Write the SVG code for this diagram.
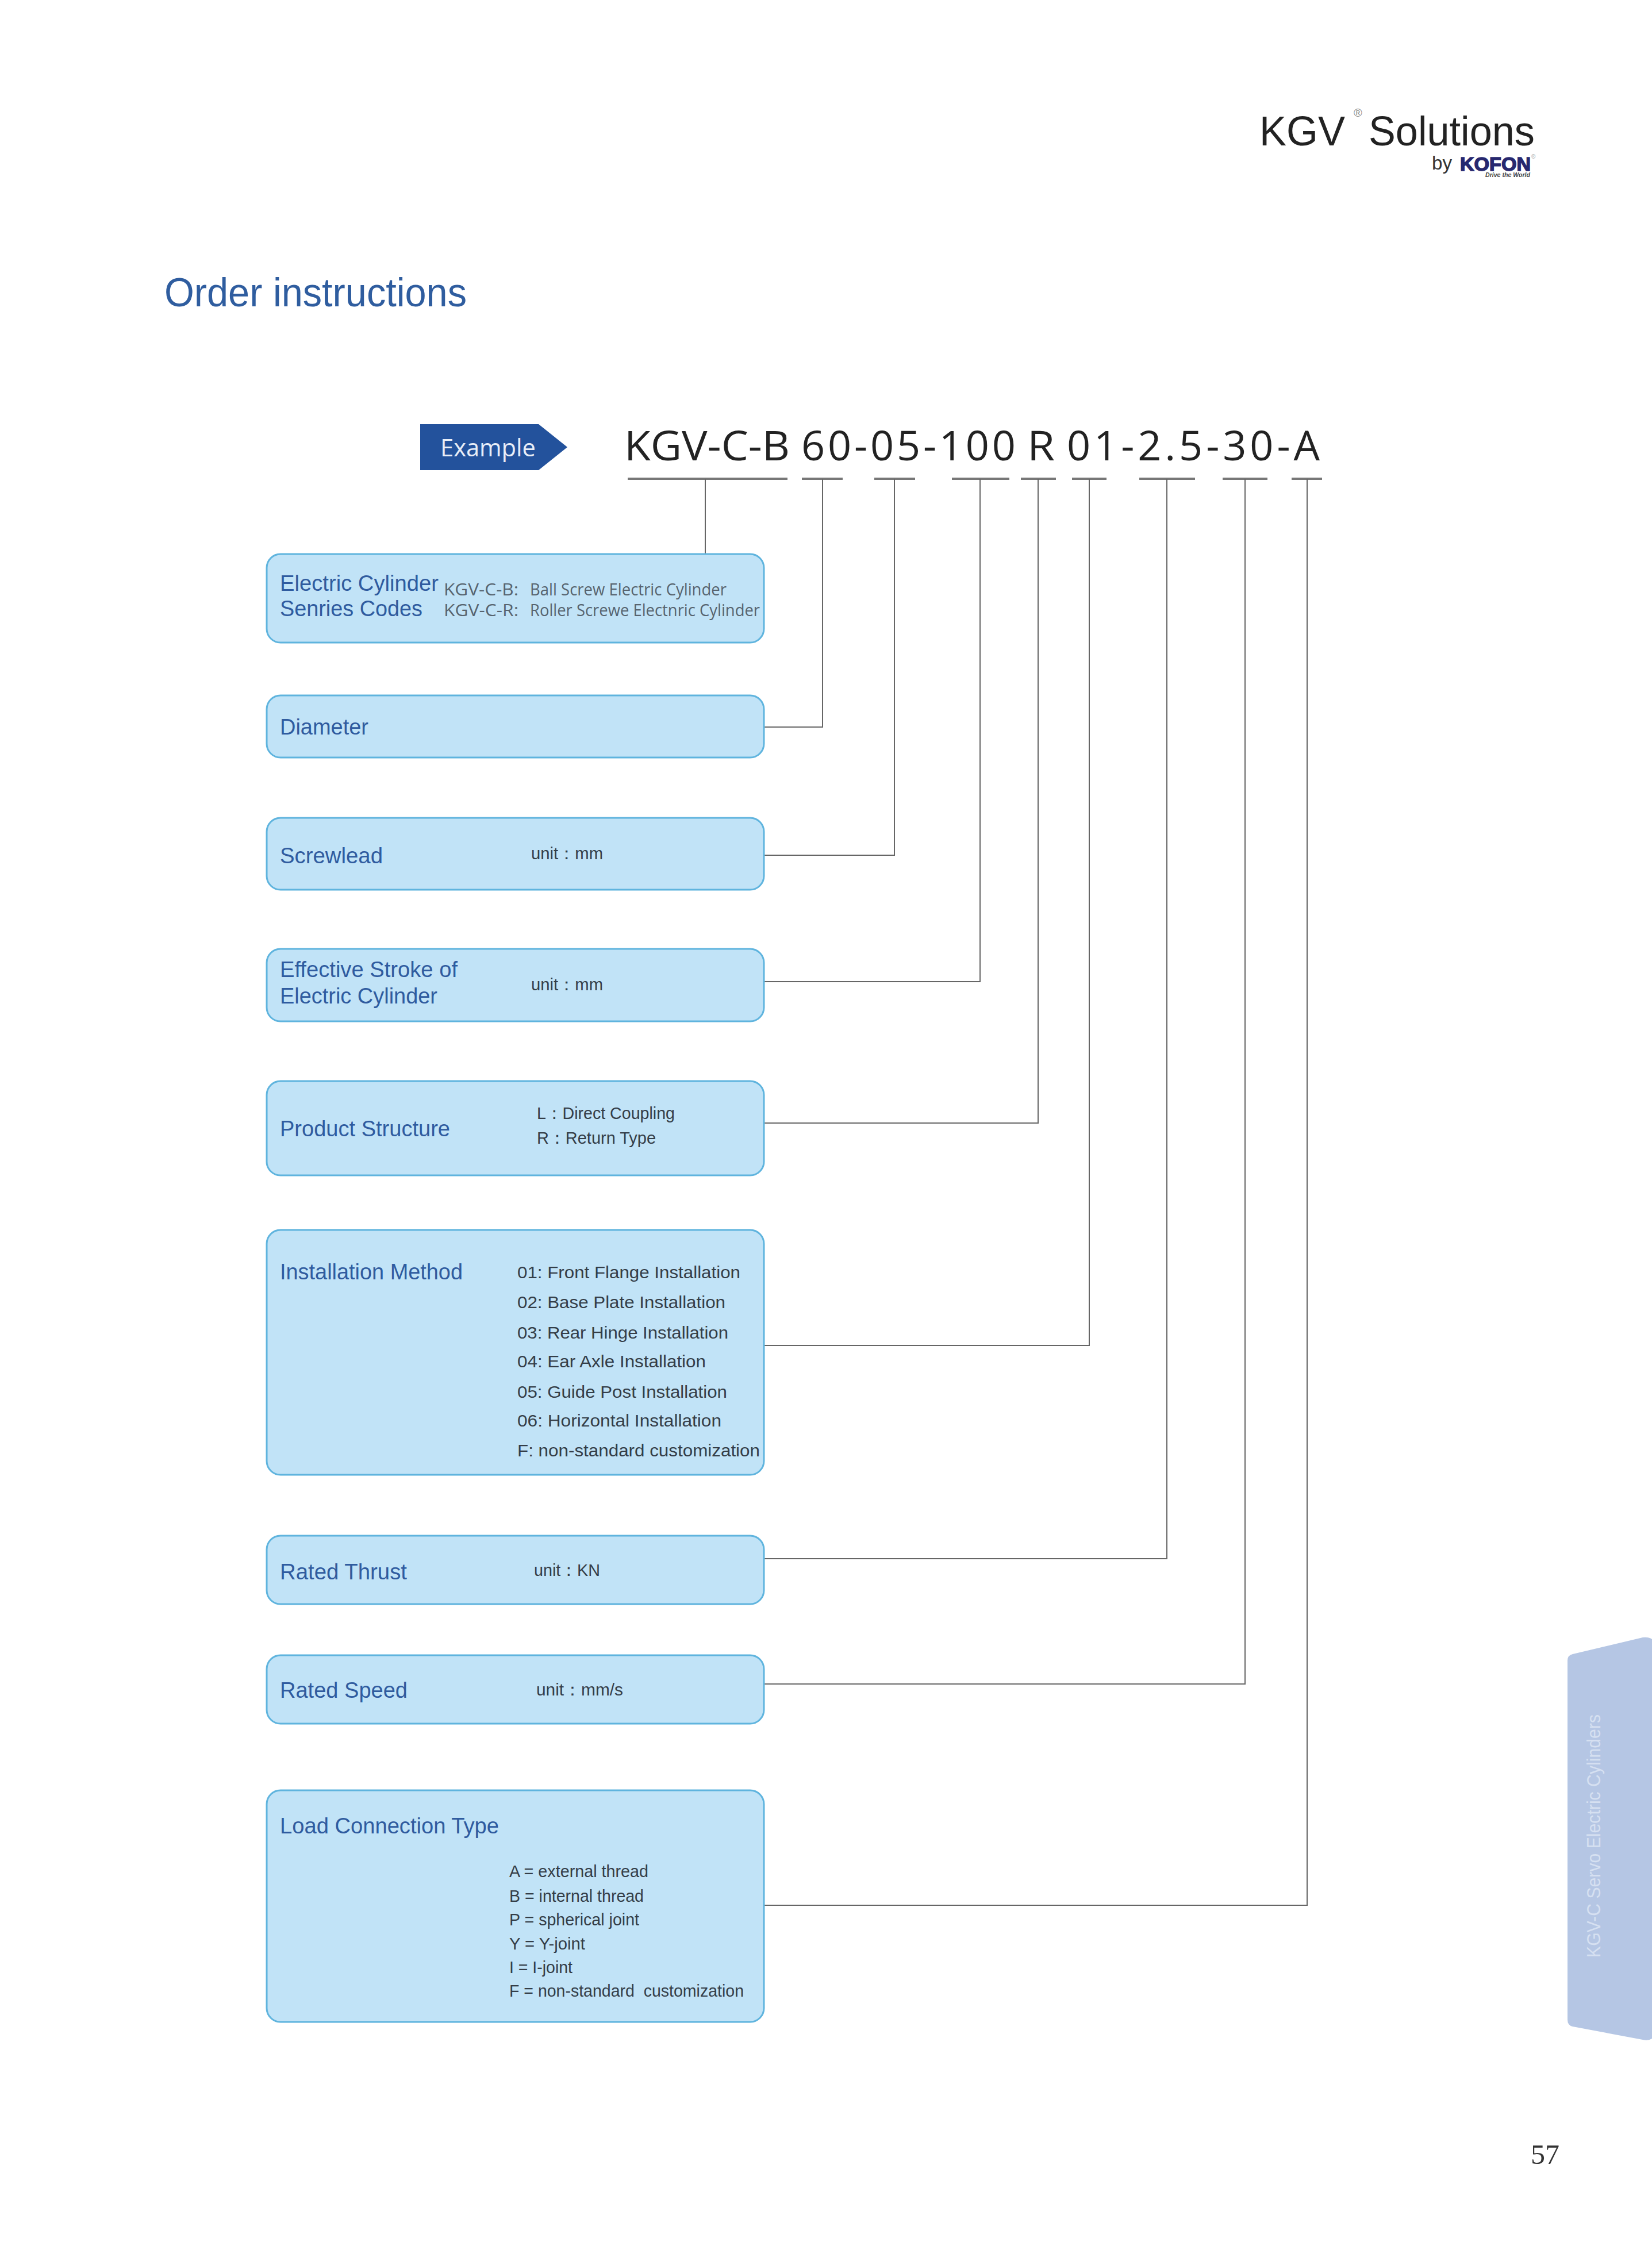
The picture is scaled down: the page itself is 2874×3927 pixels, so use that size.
<svg xmlns="http://www.w3.org/2000/svg" width="2874" height="3927" viewBox="0 0 2874 3927">
<defs><style>
text{font-family:"Liberation Sans",Arial,sans-serif}
.box{fill:#c1e3f7;stroke:#5fb4de;stroke-width:3}
.t{font-size:38px;fill:#2f5b9f}
.d{font-size:30px;fill:#343d47}
.h{font-size:29px;fill:#57636e;font-family:"Open Sans",sans-serif}
.code{font-size:72px;fill:#222;font-family:"Open Sans",sans-serif;font-weight:400}
.con{fill:none;stroke:#666;stroke-width:2}
.ul{fill:none;stroke:#777;stroke-width:4}
</style></defs>
<rect width="2874" height="3927" fill="#fff"/>
<g id="header">
<text x="2191" y="253" font-size="73" fill="#222" textLength="149" lengthAdjust="spacingAndGlyphs">KGV</text>
<text x="2355" y="203" font-size="20" fill="#888">®</text>
<text x="2381" y="253" font-size="73" fill="#222" textLength="289" lengthAdjust="spacingAndGlyphs">Solutions</text>
<text x="2491" y="295" font-size="34" fill="#333" textLength="35" lengthAdjust="spacingAndGlyphs">by</text>
<text x="2540" y="297" font-size="33" font-weight="700" fill="#27286f" stroke="#27286f" stroke-width="1.5" textLength="123" lengthAdjust="spacingAndGlyphs">KOFON</text>
<text x="2664" y="276" font-size="10" fill="#aaa">®</text>
<text x="2584" y="308" font-size="11" font-weight="700" font-style="italic" fill="#444" textLength="78" lengthAdjust="spacingAndGlyphs">Drive the World</text>
</g>
<text id="title" x="286" y="533" font-size="70" fill="#2f5d9f" textLength="526" lengthAdjust="spacingAndGlyphs">Order instructions</text>
<g id="example">
<polygon points="731,738 937,738 987,778 937,818 731,818" fill="#23529c"/>
<text x="766" y="794" font-size="42" font-weight="400" fill="#e8eef8" style="font-family:'Open Sans',sans-serif" textLength="166" lengthAdjust="spacingAndGlyphs">Example</text>
</g>
<g id="code">
<text class="code" x="1086" y="801" textLength="288" lengthAdjust="spacingAndGlyphs">KGV-C-B</text>
<text class="code" x="1394" y="801" textLength="373" lengthAdjust="spacing">60-05-100</text>
<text class="code" x="1787" y="801" textLength="48" lengthAdjust="spacingAndGlyphs">R</text>
<text class="code" x="1856" y="801" textLength="440" lengthAdjust="spacing">01-2.5-30-A</text>
</g>
<g id="connectors">
<path class="ul" d="M1092 833H1370M1395 833H1466M1521 833H1592M1656 833H1756M1776 833H1837M1865 833H1925M1982 833H2079M2127 833H2205M2247 833H2300"/>
<path class="con" d="M1227 833V963"/>
<path class="con" d="M1431 833V1265H1329"/>
<path class="con" d="M1556 833V1488H1329"/>
<path class="con" d="M1705 833V1708H1329"/>
<path class="con" d="M1806 833V1954H1329"/>
<path class="con" d="M1895 833V2341H1329"/>
<path class="con" d="M2030 833V2712H1329"/>
<path class="con" d="M2166 833V2930H1329"/>
<path class="con" d="M2274 833V3315H1329"/>
</g>
<g id="node-series">
<rect class="box" x="464" y="964" width="865" height="154" rx="24"/>
<text class="t" x="487" y="1028" textLength="276" lengthAdjust="spacingAndGlyphs">Electric Cylinder</text>
<text class="t" x="487" y="1072" textLength="248" lengthAdjust="spacingAndGlyphs">Senries Codes</text>
<text class="h" x="772" y="1036" textLength="130" lengthAdjust="spacingAndGlyphs">KGV-C-B:</text>
<text class="h" x="922" y="1036" textLength="342" lengthAdjust="spacingAndGlyphs">Ball Screw Electric Cylinder</text>
<text class="h" x="772" y="1072" textLength="130" lengthAdjust="spacingAndGlyphs">KGV-C-R:</text>
<text class="h" x="922" y="1072" textLength="400" lengthAdjust="spacingAndGlyphs">Roller Screwe Electnric Cylinder</text>
</g>
<g id="node-diameter">
<rect class="box" x="464" y="1210" width="865" height="108" rx="24"/>
<text class="t" x="487" y="1278" textLength="154" lengthAdjust="spacingAndGlyphs">Diameter</text>
</g>
<g id="node-screwlead">
<rect class="box" x="464" y="1423" width="865" height="125" rx="24"/>
<text class="t" x="487" y="1502" textLength="179" lengthAdjust="spacingAndGlyphs">Screwlead</text>
<text class="d" x="924" y="1495" textLength="125" lengthAdjust="spacingAndGlyphs">unit：mm</text>
</g>
<g id="node-stroke">
<rect class="box" x="464" y="1651" width="865" height="126" rx="24"/>
<text class="t" x="487" y="1700" textLength="309" lengthAdjust="spacingAndGlyphs">Effective Stroke of</text>
<text class="t" x="487" y="1746" textLength="274" lengthAdjust="spacingAndGlyphs">Electric Cylinder</text>
<text class="d" x="924" y="1723" textLength="125" lengthAdjust="spacingAndGlyphs">unit：mm</text>
</g>
<g id="node-structure">
<rect class="box" x="464" y="1881" width="865" height="164" rx="24"/>
<text class="t" x="487" y="1977" textLength="296" lengthAdjust="spacingAndGlyphs">Product Structure</text>
<text class="d" x="934" y="1947" textLength="240" lengthAdjust="spacingAndGlyphs">L：Direct Coupling</text>
<text class="d" x="934" y="1990" textLength="207" lengthAdjust="spacingAndGlyphs">R：Return Type</text>
</g>
<g id="node-installation">
<rect class="box" x="464" y="2140" width="865" height="426" rx="24"/>
<text class="t" x="487" y="2226" textLength="318" lengthAdjust="spacingAndGlyphs">Installation Method</text>
<text class="d" x="900" y="2224" textLength="388" lengthAdjust="spacingAndGlyphs">01: Front Flange Installation</text>
<text class="d" x="900" y="2276" textLength="362" lengthAdjust="spacingAndGlyphs">02: Base Plate Installation</text>
<text class="d" x="900" y="2329" textLength="367" lengthAdjust="spacingAndGlyphs">03: Rear Hinge Installation</text>
<text class="d" x="900" y="2379" textLength="328" lengthAdjust="spacingAndGlyphs">04: Ear Axle Installation</text>
<text class="d" x="900" y="2432" textLength="365" lengthAdjust="spacingAndGlyphs">05: Guide Post Installation</text>
<text class="d" x="900" y="2482" textLength="355" lengthAdjust="spacingAndGlyphs">06: Horizontal Installation</text>
<text class="d" x="900" y="2534" textLength="422" lengthAdjust="spacingAndGlyphs">F: non-standard customization</text>
</g>
<g id="node-thrust">
<rect class="box" x="464" y="2672" width="865" height="119" rx="24"/>
<text class="t" x="487" y="2748" textLength="221" lengthAdjust="spacingAndGlyphs">Rated Thrust</text>
<text class="d" x="929" y="2742" textLength="115" lengthAdjust="spacingAndGlyphs">unit：KN</text>
</g>
<g id="node-speed">
<rect class="box" x="464" y="2880" width="865" height="119" rx="24"/>
<text class="t" x="487" y="2954" textLength="222" lengthAdjust="spacingAndGlyphs">Rated Speed</text>
<text class="d" x="933" y="2950" textLength="151" lengthAdjust="spacingAndGlyphs">unit：mm/s</text>
</g>
<g id="node-load">
<rect class="box" x="464" y="3115" width="865" height="403" rx="24"/>
<text class="t" x="487" y="3190" textLength="381" lengthAdjust="spacingAndGlyphs">Load Connection Type</text>
<text class="d" x="886" y="3266" textLength="242" lengthAdjust="spacingAndGlyphs">A = external thread</text>
<text class="d" x="886" y="3309" textLength="234" lengthAdjust="spacingAndGlyphs">B = internal thread</text>
<text class="d" x="886" y="3350" textLength="226" lengthAdjust="spacingAndGlyphs">P = spherical joint</text>
<text class="d" x="886" y="3392" textLength="132" lengthAdjust="spacingAndGlyphs">Y = Y-joint</text>
<text class="d" x="886" y="3433" textLength="110" lengthAdjust="spacingAndGlyphs">I = I-joint</text>
<text class="d" x="886" y="3474" textLength="408" lengthAdjust="spacingAndGlyphs" xml:space="preserve">F = non-standard  customization</text>
</g>
<g id="side-tab">
<path d="M2727 2889Q2727 2880 2736 2878L2858 2849Q2868 2848 2874 2852V3547Q2868 3551 2858 3549L2736 3526Q2727 3524 2727 3514Z" fill="#b5c6e4"/>
<text transform="translate(2784 3406) rotate(-90)" font-size="33" fill="#d6e0f1" textLength="423" lengthAdjust="spacingAndGlyphs">KGV-C Servo Electric Cylinders</text>
</g>
<text id="page" x="2663" y="3765" font-size="48" fill="#333" style="font-family:'Liberation Serif',serif" textLength="50" lengthAdjust="spacingAndGlyphs">57</text>
</svg>
